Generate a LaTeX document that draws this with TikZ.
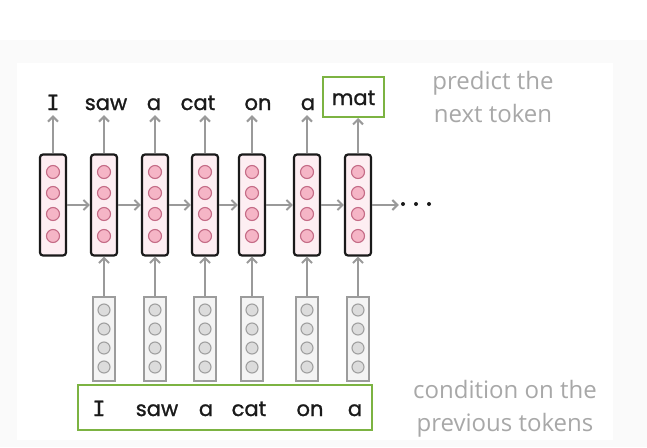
\documentclass[tikz,border=0pt]{standalone}
\usepackage{fontspec}
\setmainfont{Poppins}[FakeBold=1.1]
\newfontfamily\monoI{DejaVu Sans Mono}[FakeBold=0.8]
\newfontfamily\labelfont{Open Sans}
\usetikzlibrary{arrows.meta}
\definecolor{pinkbox}{HTML}{FDEEF2}
\definecolor{pinkcirc}{HTML}{F5B5C6}
\definecolor{pinkedge}{HTML}{C46B86}
\definecolor{darkedge}{HTML}{1A1A1A}
\definecolor{greyedge}{HTML}{9C9C9C}
\definecolor{greybox}{HTML}{F4F4F4}
\definecolor{greycirc}{HTML}{DCDCDC}
\definecolor{greycedge}{HTML}{A0A0A0}
\definecolor{mygreen}{HTML}{7CB342}
\definecolor{arrowgrey}{HTML}{9A9A9A}
\definecolor{labelgrey}{HTML}{A8A8A8}
\definecolor{bgout}{HTML}{FAFAFA}
\tikzset{
  pinkcol/.style={draw=darkedge, line width=2.2pt, fill=pinkbox, rounded corners=3pt, minimum width=26pt, minimum height=101pt, inner sep=0pt},
  pinkdot/.style={circle, draw=pinkedge, line width=1.1pt, fill=pinkcirc, minimum size=13pt, inner sep=0pt},
  greycol/.style={draw=greyedge, line width=1.8pt, fill=greybox, minimum width=22pt, minimum height=84pt, inner sep=0pt},
  greydot/.style={circle, draw=greycedge, line width=1.1pt, fill=greycirc, minimum size=12pt, inner sep=0pt},
  conn/.style={draw=arrowgrey, line width=2.3pt, -{Straight Barb[length=5pt,width=10pt,line width=2pt]}},
  word/.style={font=\fontsize{21}{21}\selectfont, text=darkedge, inner sep=0pt, text height=15pt, text depth=5pt},
  greenbox/.style={draw=mygreen, line width=2pt, inner sep=0pt},
  glabel/.style={font=\labelfont\fontsize{24}{33}\selectfont, text=labelgrey, align=center, inner sep=0pt}
}
\begin{document}
\begin{tikzpicture}[x=1pt,y=-1pt]
\useasboundingbox (0,0) rectangle (647,447);
\fill[bgout] (0,40) rectangle (647,447);
\fill[white] (17,63) rectangle (613,440);
% pink (hidden state) columns
\foreach \i/\x in {1/53,2/104,3/155,4/205,5/252,6/307,7/358}{
  \node[pinkcol] (p\i) at (\x,205) {};
  \foreach \j/\y in {1/172,2/193,3/214,4/236}{
    \node[pinkdot] (p\i c\j) at (\x,\y) {};
  }
}
% grey (embedding) columns
\foreach \i/\x in {2/104,3/155,4/205,5/252,6/307,7/358}{
  \node[greycol] (g\i) at (\x,339) {};
  \foreach \j/\y in {1/310,2/329,3/348,4/367}{
    \node[greydot] (g\i c\j) at (\x,\y) {};
  }
}
% top words
\node[word, anchor=base] (w1) at (53,110) {\monoI I};
\node[word, anchor=base] (w2) at (106,110) {saw};
\node[word, anchor=base] (w3) at (154,110) {a};
\node[word, anchor=base] (w4) at (198,110) {cat};
\node[word, anchor=base] (w5) at (258,110) {on};
\node[word, anchor=base] (w6) at (308,110) {a};
\node[greenbox, minimum width=61pt, minimum height=40pt, font=\fontsize{21}{21}\selectfont, text=darkedge, text height=16pt, text depth=0pt] (mat) at (353.5,97) {mat};
% bottom context box
\node[greenbox, minimum width=294pt, minimum height=45pt] (ctx) at (225,407.5) {};
\node[word, anchor=base] (b1) at (99,416) {\monoI I};
\node[word, anchor=base] (b2) at (157,416) {saw};
\node[word, anchor=base] (b3) at (206,416) {a};
\node[word, anchor=base] (b4) at (249,416) {cat};
\node[word, anchor=base] (b5) at (310,416) {on};
\node[word, anchor=base] (b6) at (355,416) {a};
% dots
\node[inner sep=0pt, minimum width=34pt, minimum height=8pt] (dots) at (416,204) {};
\foreach \dx in {-13,0,13}{ \fill[darkedge] ([xshift=\dx pt]dots.center) circle (2pt); }
% arrows up to words (vertical)
\foreach \i in {1,...,6}{ \draw[conn] (p\i.north) -- (p\i.north |- w\i.south); }
\draw[conn] (p7.north) -- (p7.north |- mat.south);
% recurrent arrows
\foreach \i/\n in {1/2,2/3,3/4,4/5,5/6,6/7}{ \draw[conn] (p\i.east) -- (p\n.west); }
\draw[conn] (p7.east) -- (dots.west |- p7.east);
% embedding arrows
\foreach \i in {2,...,7}{ \draw[conn] (g\i.north) -- (p\i.south); }
% grey labels
\node[glabel] (lab1) at (493,97) {predict the\\next token};
\node[glabel] (lab2) at (505,409) {condition on the\\previous tokens};
\end{tikzpicture}
\end{document}
